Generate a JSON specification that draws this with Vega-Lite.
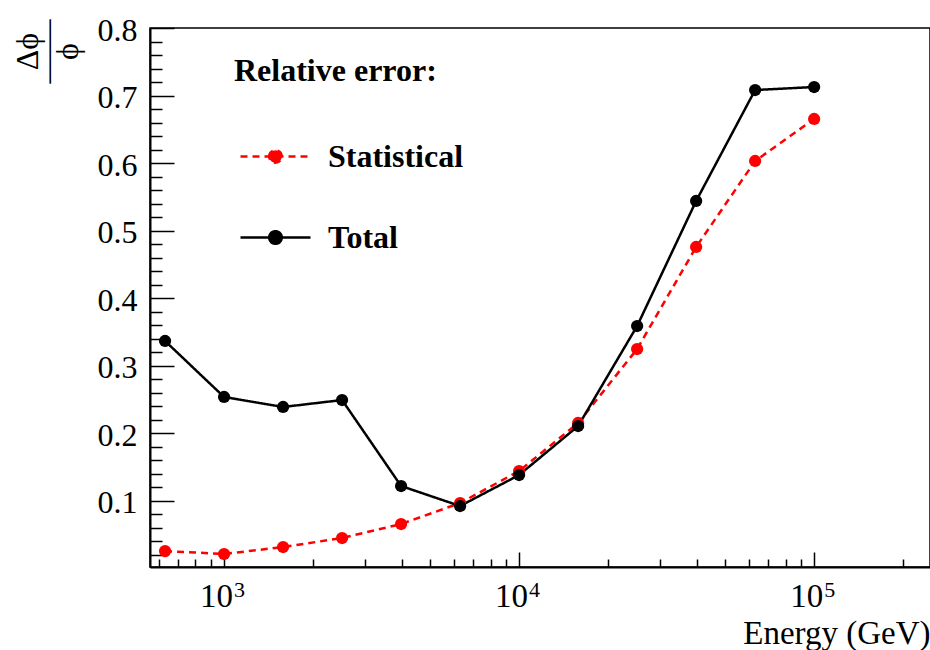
{
  "$schema": "https://vega.github.io/schema/vega-lite/v6.json",
  "width": 780,
  "height": 539,
  "autosize": {"type": "none"},
  "padding": {"left": 150, "top": 28, "right": 0, "bottom": 83},
  "background": "white",
  "config": {
    "view": {"stroke": "#000000", "strokeWidth": 1.5},
    "font": "Liberation Serif",
    "axis": {"grid": false, "labelFont": "Liberation Serif", "titleFont": "Liberation Serif", "labelColor": "#000", "titleColor": "#000", "domainColor": "#000", "tickColor": "#000"}
  },
  "data": {
    "values": [
      {"energy": 631, "series": "Statistical", "err": 0.0256},
      {"energy": 1000, "series": "Statistical", "err": 0.0212},
      {"energy": 1585, "series": "Statistical", "err": 0.0316},
      {"energy": 2512, "series": "Statistical", "err": 0.0449},
      {"energy": 3981, "series": "Statistical", "err": 0.0656},
      {"energy": 6310, "series": "Statistical", "err": 0.0967},
      {"energy": 10000, "series": "Statistical", "err": 0.1441},
      {"energy": 15849, "series": "Statistical", "err": 0.2152},
      {"energy": 25119, "series": "Statistical", "err": 0.3247},
      {"energy": 39811, "series": "Statistical", "err": 0.4758},
      {"energy": 63096, "series": "Statistical", "err": 0.6031},
      {"energy": 100000, "series": "Statistical", "err": 0.6653},
      {"energy": 631, "series": "Total", "err": 0.3366},
      {"energy": 1000, "series": "Total", "err": 0.2537},
      {"energy": 1585, "series": "Total", "err": 0.2389},
      {"energy": 2512, "series": "Total", "err": 0.2492},
      {"energy": 3981, "series": "Total", "err": 0.1219},
      {"energy": 6310, "series": "Total", "err": 0.0923},
      {"energy": 10000, "series": "Total", "err": 0.1382},
      {"energy": 15849, "series": "Total", "err": 0.2107},
      {"energy": 25119, "series": "Total", "err": 0.3588},
      {"energy": 39811, "series": "Total", "err": 0.5439},
      {"energy": 63096, "series": "Total", "err": 0.7082},
      {"energy": 100000, "series": "Total", "err": 0.7126}
    ]
  },
  "resolve": {"axis": {"x": "independent", "y": "independent"}, "scale": {"x": "shared", "y": "shared"}},
  "layer": [
    {
      "encoding": {
        "x": {
          "field": "energy", "type": "quantitative",
          "scale": {"type": "log", "domain": [561, 247000], "nice": false, "zero": false},
          "axis": {
            "orient": "bottom",
            "values": [1000, 10000, 100000],
            "labelExpr": "'10'",
            "ticks": false, "domain": true, "domainWidth": 2,
            "labelFontSize": 33, "labelPadding": 13, "labelOffset": -8, "labelFlush": false, "labelOverlap": false,
            "title": "Energy (GeV)", "titleFontSize": 33, "titleFontWeight": "normal",
            "titleAlign": "right", "titleAnchor": "end", "titleX": 780, "titleY": 76, "titleBaseline": "alphabetic"
          }
        },
        "y": {
          "field": "err", "type": "quantitative",
          "scale": {"domain": [0.002, 0.8], "nice": false, "zero": false},
          "axis": {
            "orient": "left",
            "values": [0.1, 0.2, 0.3, 0.4, 0.5, 0.6, 0.7, 0.8],
            "format": ".1f",
            "ticks": false, "domain": true, "domainWidth": 2,
            "labelFontSize": 32, "labelPadding": 13, "labelOffset": 2, "labelFlush": false, "labelOverlap": false, "labelBound": false,
            "title": ["Δϕ", "——", "ϕ"], "titleFontSize": 32, "titleFontWeight": "normal", "titleAngle": -90,
            "titleAlign": "center", "titleBaseline": "middle", "titleLineHeight": 20, "titleX": -123, "titleY": 23
          }
        },
        "color": {
          "field": "series", "type": "nominal",
          "scale": {"domain": ["Statistical", "Total"], "range": ["#ff0000", "#000000"]},
          "legend": {
            "orient": "none", "legendX": 84, "legendY": 28, "padding": 0,
            "title": "Relative error:", "titleFont": "Liberation Serif", "titleFontSize": 32, "titleFontWeight": "bold", "titleColor": "#000", "titleLimit": 600,
            "titlePadding": 32, "rowPadding": 28,
            "labelFont": "Liberation Serif", "labelFontSize": 32, "labelFontWeight": "bold", "labelColor": "#000", "labelOffset": 16, "labelLimit": 600,
            "symbolType": "M-1,0L1,0M-0.18,0A0.18,0.18,0,1,1,0.18,0A0.18,0.18,0,1,1,-0.18,0Z",
            "symbolSize": 4900, "symbolStrokeWidth": 2.5, "symbolOffset": 5,
            "encode": {"symbols": {"update": {"fill": {"scale": "color", "field": "value"}}}}
          }
        },
        "strokeDash": {
          "field": "series", "type": "nominal",
          "scale": {"domain": ["Statistical", "Total"], "range": [[7, 5], [1, 0]]},
          "legend": null
        }
      },
      "layer": [
        {"mark": {"type": "line", "strokeWidth": 2.5}},
        {"mark": {"type": "point", "filled": true, "size": 150, "opacity": 1}, "encoding": {"strokeDash": {"value": [1, 0]}}}
      ]
    },
    {
      "mark": {"type": "point", "opacity": 0},
      "encoding": {
        "x": {"field": "energy", "type": "quantitative", "scale": {"type": "log", "domain": [561, 247000], "nice": false, "zero": false},
          "axis": {"orient": "bottom", "values": [1000, 10000, 100000], "labels": false, "domain": false, "ticks": true, "tickSize": -15, "tickWidth": 1.5, "title": null}},
        "y": {"field": "err", "type": "quantitative", "scale": {"domain": [0.002, 0.8], "nice": false, "zero": false},
          "axis": {"orient": "left", "values": [0.1, 0.2, 0.3, 0.4, 0.5, 0.6, 0.7, 0.8], "labels": false, "domain": false, "ticks": true, "tickSize": -24, "tickWidth": 1.5, "title": null}}
      }
    },
    {
      "mark": {"type": "point", "opacity": 0},
      "encoding": {
        "x": {"field": "energy", "type": "quantitative", "scale": {"type": "log", "domain": [561, 247000], "nice": false, "zero": false},
          "axis": {"orient": "bottom", "values": [600, 700, 800, 900, 2000, 3000, 4000, 5000, 6000, 7000, 8000, 9000, 20000, 30000, 40000, 50000, 60000, 70000, 80000, 90000, 200000], "labels": false, "domain": false, "ticks": true, "tickSize": -8, "tickWidth": 1.5, "title": null}},
        "y": {"field": "err", "type": "quantitative", "scale": {"domain": [0.002, 0.8], "nice": false, "zero": false},
          "axis": {"orient": "left", "values": [0.02, 0.04, 0.06, 0.08, 0.12, 0.14, 0.16, 0.18, 0.22, 0.24, 0.26, 0.28, 0.32, 0.34, 0.36, 0.38, 0.42, 0.44, 0.46, 0.48, 0.52, 0.54, 0.56, 0.58, 0.62, 0.64, 0.66, 0.68, 0.72, 0.74, 0.76, 0.78], "labels": false, "domain": false, "ticks": true, "tickSize": -12, "tickWidth": 1.5, "title": null}}
      }
    },
    {
      "mark": {"type": "point", "opacity": 0},
      "encoding": {
        "x": {"field": "energy", "type": "quantitative", "scale": {"type": "log", "domain": [561, 247000], "nice": false, "zero": false},
          "axis": {"orient": "bottom", "values": [1000, 10000, 100000], "labelExpr": "datum.value == 1000 ? '3' : datum.value == 10000 ? '4' : '5'", "labelFontSize": 22, "labelPadding": 12, "labelOffset": 15, "labelFlush": false, "labelOverlap": false, "labels": true, "domain": false, "ticks": false, "title": null}},
        "y": {"field": "err", "type": "quantitative", "scale": {"domain": [0.002, 0.8], "nice": false, "zero": false}, "axis": null}
      }
    }
  ]
}
